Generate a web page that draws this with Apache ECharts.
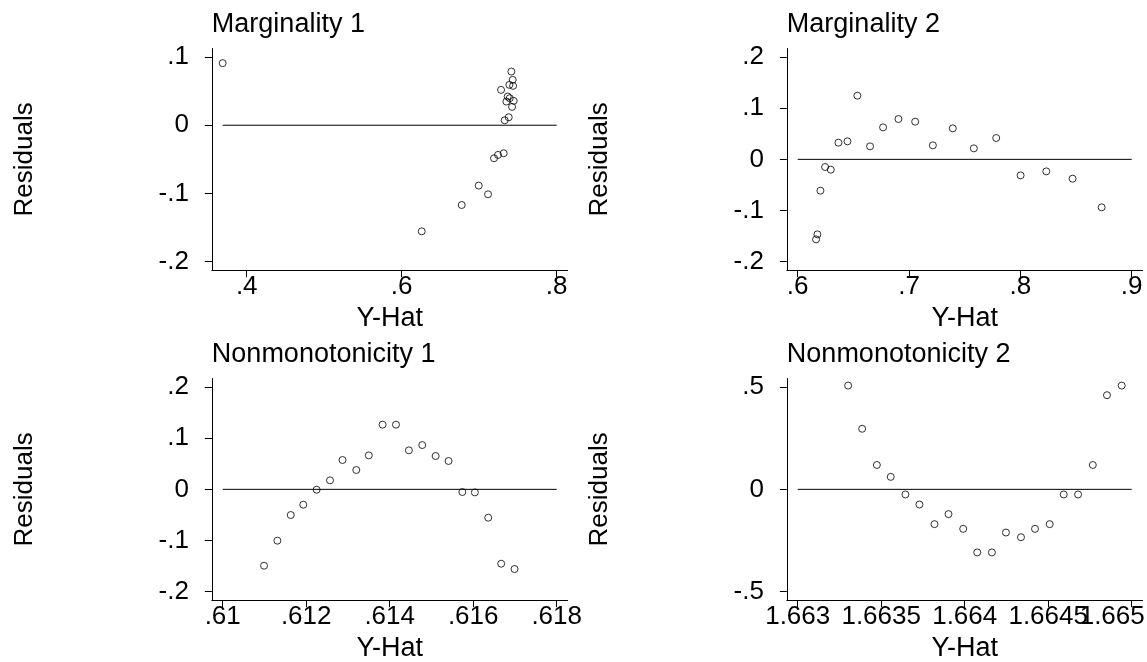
<!DOCTYPE html>
<html>
<head>
<meta charset="utf-8">
<script src="https://cdn.jsdelivr.net/npm/echarts@6/dist/echarts.min.js"></script>
<style>
  html, body { margin: 0; padding: 0; background: #ffffff; }
  #chart { width: 1147px; height: 662px; }
</style>
</head>
<body>
<div id="chart"></div>
<script>
// ---------------- DATA ----------------
const panelTitles = ['Marginality 1', 'Marginality 2', 'Nonmonotonicity 1', 'Nonmonotonicity 2'];
const xAxisTitle = 'Y-Hat';
const yAxisTitle = 'Residuals';

// Marginality 1
const m1X = [0.3690, 0.6258, 0.6774, 0.6994, 0.7114, 0.7191, 0.7243, 0.7316, 0.7329, 0.7381,
             0.7282, 0.7351, 0.7368, 0.7394, 0.7445, 0.7424, 0.7389, 0.7437, 0.7432, 0.7415];
const m1Y = [0.0910, -0.1555, -0.1169, -0.0885, -0.1012, -0.0484, -0.0435, -0.0411, 0.0073, 0.0117,
             0.0518, 0.0347, 0.0421, 0.0396, 0.0357, 0.0269, 0.0592, 0.0577, 0.0665, 0.0787];
const m1XTicks = [0.4, 0.6, 0.8];
const m1YTicks = [-0.2, -0.1, 0, 0.1];
const m1XRange = [0.369, 0.8];
const m1YRange = [-0.2, 0.1];

// Marginality 2
const m2X = [0.6165, 0.6177, 0.6204, 0.6246, 0.6297, 0.6366, 0.6447, 0.6536, 0.6650, 0.6767,
             0.6905, 0.7055, 0.7214, 0.7393, 0.7582, 0.7783, 0.8002, 0.8233, 0.8469, 0.8730];
const m2Y = [-0.1564, -0.1466, -0.0612, -0.0150, -0.0202, 0.0326, 0.0352, 0.1244, 0.0254, 0.0625,
             0.0788, 0.0736, 0.0274, 0.0606, 0.0215, 0.0417, -0.0313, -0.0235, -0.0378, -0.0938];
const m2XTicks = [0.6, 0.7, 0.8, 0.9];
const m2YTicks = [-0.2, -0.1, 0, 0.1, 0.2];
const m2XRange = [0.6, 0.9];
const m2YRange = [-0.2, 0.2];

// Nonmonotonicity 1
const n1X = [0.61099, 0.61131, 0.61163, 0.61193, 0.61225, 0.61257, 0.61287, 0.61320, 0.61350, 0.61383,
             0.61415, 0.61446, 0.61478, 0.61510, 0.61541, 0.61574, 0.61604, 0.61636, 0.61667, 0.61699];
const n1Y = [-0.1492, -0.1003, -0.0502, -0.0300, -0.0007, 0.0176, 0.0573, 0.0378, 0.0664, 0.1264,
             0.1264, 0.0762, 0.0866, 0.0651, 0.0554, -0.0052, -0.0059, -0.0554, -0.1453, -0.1557];
const n1XTicks = [0.61, 0.612, 0.614, 0.616, 0.618];
const n1YTicks = [-0.2, -0.1, 0, 0.1, 0.2];
const n1XRange = [0.61, 0.618];
const n1YRange = [-0.2, 0.2];

// Nonmonotonicity 2
const n2X = [1.663302, 1.663386, 1.663474, 1.663557, 1.663645, 1.663729, 1.663819, 1.663903, 1.663991, 1.664075,
             1.664163, 1.664247, 1.664337, 1.664421, 1.664509, 1.664593, 1.664679, 1.664767, 1.664852, 1.664940];
const n2Y = [0.507, 0.296, 0.119, 0.061, -0.025, -0.074, -0.170, -0.121, -0.193, -0.308,
             -0.308, -0.211, -0.234, -0.193, -0.170, -0.025, -0.025, 0.119, 0.460, 0.507];
const n2XTicks = [1.663, 1.6635, 1.664, 1.6645, 1.665];
const n2YTicks = [-0.5, 0, 0.5];
const n2XRange = [1.663, 1.665];
const n2YRange = [-0.5, 0.5];

// ---------------- LAYOUT / STYLE ----------------
const FONT = "'Liberation Sans', Arial, Helvetica, sans-serif";
const REGION_W = 334, REGION_H = 204.7;     // inner plot region (px)
const MARGIN_X = 10.85, MARGIN_Y = 8.5;    // plot-region margin inside axes (px)
const GRID_W = REGION_W + 2 * MARGIN_X;
const GRID_H = REGION_H + 2 * MARGIN_Y;
const gridPos = [
  { left: 211.85, top: 48.5 },
  { left: 786.85, top: 48.5 },
  { left: 211.85, top: 378.5 },
  { left: 786.85, top: 378.5 }
];

function stataFmt(v) {
  const s = String(+(+v).toPrecision(6));
  return s.replace(/^(-?)0\./, '$1.');
}

const panels = [
  { x: m1X, y: m1Y, xt: m1XTicks, yt: m1YTicks, xr: m1XRange, yr: m1YRange },
  { x: m2X, y: m2Y, xt: m2XTicks, yt: m2YTicks, xr: m2XRange, yr: m2YRange },
  { x: n1X, y: n1Y, xt: n1XTicks, yt: n1YTicks, xr: n1XRange, yr: n1YRange },
  { x: n2X, y: n2Y, xt: n2XTicks, yt: n2YTicks, xr: n2XRange, yr: n2YRange, shiftLast: true }
];

const option = {
  backgroundColor: '#ffffff',
  animation: false,
  title: [],
  grid: [],
  xAxis: [],
  yAxis: [],
  series: []
};

const labelBase = { fontFamily: FONT, fontSize: 26, color: '#000' };

panels.forEach((p, i) => {
  const g = gridPos[i];
  option.grid.push({
    left: g.left, top: g.top, width: GRID_W, height: GRID_H,
    containLabel: false, outerBoundsMode: 'none'
  });
  option.title.push({
    text: panelTitles[i],
    left: g.left,
    top: g.top - 37.5,
    padding: 0,
    textStyle: { fontFamily: FONT, fontSize: 27, fontWeight: 'normal', color: '#000' }
  });
  const dx = (p.xr[1] - p.xr[0]) * MARGIN_X / REGION_W;
  const dy = (p.yr[1] - p.yr[0]) * MARGIN_Y / REGION_H;
  const xMin = p.xr[0] - dx, xMax = p.xr[1] + dx;
  const mainLabels = p.shiftLast ? p.xt.slice(0, -1) : p.xt;
  const xIndex = option.xAxis.length;
  option.xAxis.push({
    type: 'value', gridIndex: i, position: 'bottom',
    min: xMin, max: xMax,
    name: xAxisTitle, nameLocation: 'middle', nameGap: 34.5,
    nameTextStyle: { fontFamily: FONT, fontSize: 27, color: '#000' },
    axisLine: { show: true, onZero: false, lineStyle: { color: '#000', width: 1 } },
    axisTick: { show: true, length: 7, customValues: p.xt, lineStyle: { color: '#000', width: 1 } },
    axisLabel: Object.assign({
      customValues: mainLabels, margin: 4,
      showMinLabel: true, showMaxLabel: true, hideOverlap: false,
      formatter: stataFmt
    }, labelBase),
    splitLine: { show: false }
  });
  if (p.shiftLast) {
    // last tick label, nudged left to stay inside the picture (overlaps its neighbour, as in the original)
    option.xAxis.push({
      type: 'value', gridIndex: i, position: 'bottom',
      min: xMin, max: xMax,
      axisLine: { show: false, onZero: false },
      axisTick: { show: false },
      axisLabel: Object.assign({
        customValues: p.xt.slice(-1), margin: 4,
        showMinLabel: true, showMaxLabel: true, hideOverlap: false,
        formatter: v => '{s|' + stataFmt(v) + '}',
        rich: { s: Object.assign({ padding: [0, 39, 0, 0] }, labelBase) }
      }, labelBase),
      splitLine: { show: false }
    });
  }
  const yIndex = option.yAxis.length;
  option.yAxis.push({
    type: 'value', gridIndex: i,
    min: p.yr[0] - dy, max: p.yr[1] + dy,
    name: yAxisTitle, nameLocation: 'middle', nameGap: 174, nameRotate: 90,
    nameTextStyle: { fontFamily: FONT, fontSize: 26, color: '#000' },
    axisLine: { show: true, onZero: false, lineStyle: { color: '#000', width: 1 } },
    axisTick: { show: true, length: 7, customValues: p.yt, lineStyle: { color: '#000', width: 1 } },
    axisLabel: Object.assign({
      customValues: p.yt, margin: 23,
      showMinLabel: true, showMaxLabel: true, hideOverlap: false,
      formatter: stataFmt
    }, labelBase),
    splitLine: { show: false }
  });
  // zero reference line across the plot region
  option.series.push({
    type: 'line', xAxisIndex: xIndex, yAxisIndex: yIndex,
    data: [[p.xr[0], 0], [p.xr[1], 0]],
    symbol: 'none', silent: true, z: 1,
    lineStyle: { color: '#000', width: 1 }
  });
  option.series.push({
    type: 'scatter', xAxisIndex: xIndex, yAxisIndex: yIndex,
    data: p.x.map((xv, k) => [xv, p.y[k]]),
    symbol: 'circle', symbolSize: 7, z: 2,
    itemStyle: { color: 'rgba(255,255,255,0)', borderColor: '#000', borderWidth: 1 }
  });
});

const chart = echarts.init(document.getElementById('chart'), null, { renderer: 'canvas' });
chart.setOption(option);
</script>
</body>
</html>
